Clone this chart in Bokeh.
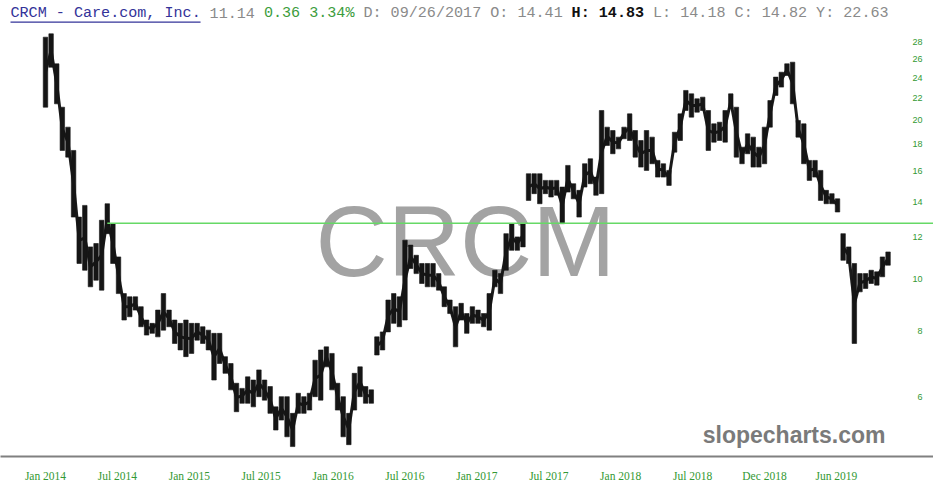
import numpy as np
from bokeh.plotting import figure
from bokeh.models import Range1d, FixedTicker, Label, BoxAnnotation
from bokeh.embed import file_html
from bokeh.resources import INLINE

# ---- data: two-week bars (10 trading days each) starting 2014-01-24 ----
high = [28.59, 29.01, 25.47, 21.10, 19.35, 17.49, 13.10, 13.78, 11.51, 11.68,
        12.92, 13.88, 12.73, 11.02, 9.40, 9.27, 9.27, 8.88, 8.38, 8.26,
        8.75, 9.40, 8.75, 8.38, 8.26, 8.38, 8.26, 8.26, 8.14, 8.02,
        7.91, 7.91, 7.15, 6.94, 6.37, 6.23, 6.55, 6.46, 6.75, 6.46,
        6.28, 5.75, 6.01, 6.01, 5.59, 6.10, 6.01, 6.10, 7.04, 7.36,
        7.46, 7.25, 6.37, 6.01, 5.59, 6.65, 6.84, 6.28, 6.19, 7.79,
        7.96, 9.14, 9.40, 9.27, 11.85, 11.60, 11.10, 10.71, 10.71, 10.71,
        10.25, 9.68, 9.14, 8.88, 9.01, 8.62, 8.88, 8.75, 8.62, 9.40,
        10.40, 10.25, 12.19, 12.73, 12.02, 12.73, 15.81, 15.81, 15.81, 15.36,
        15.36, 15.36, 14.92, 16.39, 15.14, 14.71, 16.51, 16.87, 15.58, 20.80,
        19.35, 19.07, 18.53, 19.35, 20.50, 19.07, 18.26, 19.07, 18.53, 16.75,
        16.51, 16.04, 18.93, 20.50, 22.69, 22.36, 21.88, 22.04, 20.80, 19.63,
        19.77, 20.80, 22.36, 21.10, 17.74, 18.80, 18.53, 17.74, 19.35, 21.72,
        24.04, 24.56, 25.47, 25.65, 19.92, 19.63, 16.75, 16.75, 16.04, 14.71,
        14.50, 14.18, 12.19, 11.51, 10.71, 10.25, 10.25, 10.40, 10.33, 11.02,
        11.26]
low = [21.10, 25.10, 21.41, 17.49, 16.99, 13.10, 10.71, 10.40, 9.68, 9.96,
       9.54, 12.19, 10.71, 9.40, 8.38, 8.50, 8.75, 8.14, 7.85, 7.91,
       7.79, 8.02, 8.14, 7.57, 7.36, 7.15, 7.25, 7.68, 7.57, 7.36,
       6.46, 6.94, 6.65, 6.19, 5.63, 5.84, 5.84, 5.75, 6.01, 5.92,
       5.59, 5.20, 5.43, 5.05, 4.84, 5.59, 5.59, 5.67, 6.01, 5.92,
       6.84, 6.19, 5.67, 5.05, 4.88, 5.67, 6.01, 5.84, 5.84, 7.20,
       7.36, 7.96, 8.26, 8.14, 8.38, 10.48, 10.25, 9.82, 9.68, 9.68,
       9.54, 8.88, 8.62, 7.46, 8.38, 7.91, 8.26, 8.26, 8.14, 8.02,
       9.68, 9.40, 10.40, 11.34, 11.34, 11.51, 14.08, 14.50, 13.88, 14.50,
       14.29, 14.40, 12.73, 14.60, 14.18, 13.10, 14.92, 15.14, 14.40, 14.50,
       17.87, 17.24, 17.61, 18.40, 18.26, 16.99, 16.27, 16.04, 16.51, 15.58,
       15.58, 15.03, 17.36, 18.26, 20.80, 20.21, 20.65, 20.80, 17.49, 18.13,
       18.26, 18.13, 20.95, 16.99, 16.51, 17.24, 16.27, 16.27, 16.51, 19.35,
       22.20, 23.02, 24.21, 21.41, 18.53, 16.51, 15.36, 15.58, 14.08, 13.88,
       13.88, 13.39, 10.86, 10.71, 7.57, 9.47, 9.61, 9.82, 9.75, 10.11,
       10.63]
bar_days = 10
days = np.arange(len(high)) * bar_days   # trading-day index of each bar
hi = np.array(high)
lo = np.array(low)
mid = np.sqrt(hi * lo)

tick_days = [0, 128, 256, 384, 512, 640, 768, 896, 1024, 1152, 1280, 1408]
tick_labels = ["Jan 2014", "Jul 2014", "Jan 2015", "Jul 2015", "Jan 2016", "Jul 2016",
               "Jan 2017", "Jul 2017", "Jan 2018", "Jul 2018", "Dec 2018", "Jun 2019"]
y_ticks = [6, 8, 10, 12, 14, 16, 18, 20, 22, 24, 26, 28]

level_price = 12.75
level_start_bar = 11

header_parts = ["CRCM - Care.com, Inc.", "11.14", "0.36 3.34%", "D: 09/26/2017 O: 14.41",
                "H: 14.83", "L: 14.18 C: 14.82 Y: 22.63"]
header_colors = ["#333399", "#8a8a8a", "#3c9c3c", "#8a8a8a", "#111111", "#8a8a8a"]
header_styles = ["normal", "normal", "normal", "normal", "bold", "normal"]

# ---- figure ----
W, H = 933, 496
BOTTOM = 40
FB = H - BOTTOM          # frame bottom (px from top)
p = figure(width=W, height=H, output_backend="svg", toolbar_location=None,
           y_axis_type="log", y_axis_location=None,
           x_range=Range1d(-80.1, 1580.9), y_range=Range1d(4.636, 33.52),
           min_border_left=0, min_border_right=0, min_border_top=0,
           min_border_bottom=BOTTOM)
p.outline_line_color = None
p.xgrid.visible = False
p.ygrid.visible = False
p.background_fill_color = "white"
p.border_fill_color = "white"

ax = p.xaxis[0]
ax.ticker = FixedTicker(ticks=tick_days)
ax.major_label_overrides = {d: l for d, l in zip(tick_days, tick_labels)}
ax.axis_line_color = "#808080"
ax.axis_line_width = 2
ax.major_tick_line_color = None
ax.minor_tick_line_color = None
ax.major_tick_out = 0
ax.major_tick_in = 0
ax.minor_tick_out = 0
ax.major_label_standoff = 13
ax.major_label_text_font = "Liberation Serif"
ax.major_label_text_font_size = "11.5px"
ax.major_label_text_color = "#339933"

# watermark
p.add_layout(Label(x=465, y=FB - 240, x_units="screen", y_units="screen",
                   text="CRCM", text_align="center", text_baseline="middle",
                   text_font="Liberation Sans", text_font_size="100px",
                   text_color="#a3a3a3", level="underlay"))

# connect consecutive bars unless there is a clear price gap between them
gap = np.maximum(lo[1:] / hi[:-1], lo[:-1] / hi[1:])
ok = gap < 1.09
p.segment(x0=days[:-1][ok], y0=mid[:-1][ok], x1=days[1:][ok], y1=mid[1:][ok],
          line_color="#1a1a1a", line_width=3)
# price bars
p.vbar(x=days, width=bar_days * 0.8, bottom=lo, top=hi,
       fill_color="#151515", line_color="#151515", line_width=0.6)

# horizontal level line
p.ray(x=[days[level_start_bar]], y=[level_price], length=0, angle=0,
      line_color="#66d966", line_width=1.5)

# right-hand price labels
for v in y_ticks:
    p.add_layout(Label(x=922, x_units="screen", y=v, y_units="data", text=str(v),
                       text_align="right", text_baseline="middle",
                       text_font="Liberation Sans", text_font_size="9px",
                       text_color="#339933"))

# header
adv = 9.05
idx = 0
for part, col, sty in zip(header_parts, header_colors, header_styles):
    p.add_layout(Label(x=10 + idx * adv, y=FB - 12, x_units="screen", y_units="screen",
                       text=part, text_align="left", text_baseline="middle",
                       text_font="Liberation Mono", text_font_size="15.1px",
                       text_font_style=sty, text_color=col))
    idx += len(part) + 1
p.add_layout(BoxAnnotation(left=10, right=10 + len(header_parts[0]) * adv,
                           bottom=FB - 22.2, top=FB - 21,
                           left_units="screen", right_units="screen",
                           bottom_units="screen", top_units="screen",
                           fill_color="#333399", fill_alpha=1, line_color=None))

# site mark
p.add_layout(Label(x=885, y=FB - 434, x_units="screen", y_units="screen",
                   text="slopecharts.com", text_align="right", text_baseline="middle",
                   text_font="Liberation Sans", text_font_size="23px",
                   text_font_style="bold", text_color="#7a7a7a"))

open("out.html", "w").write(file_html(p, INLINE))
